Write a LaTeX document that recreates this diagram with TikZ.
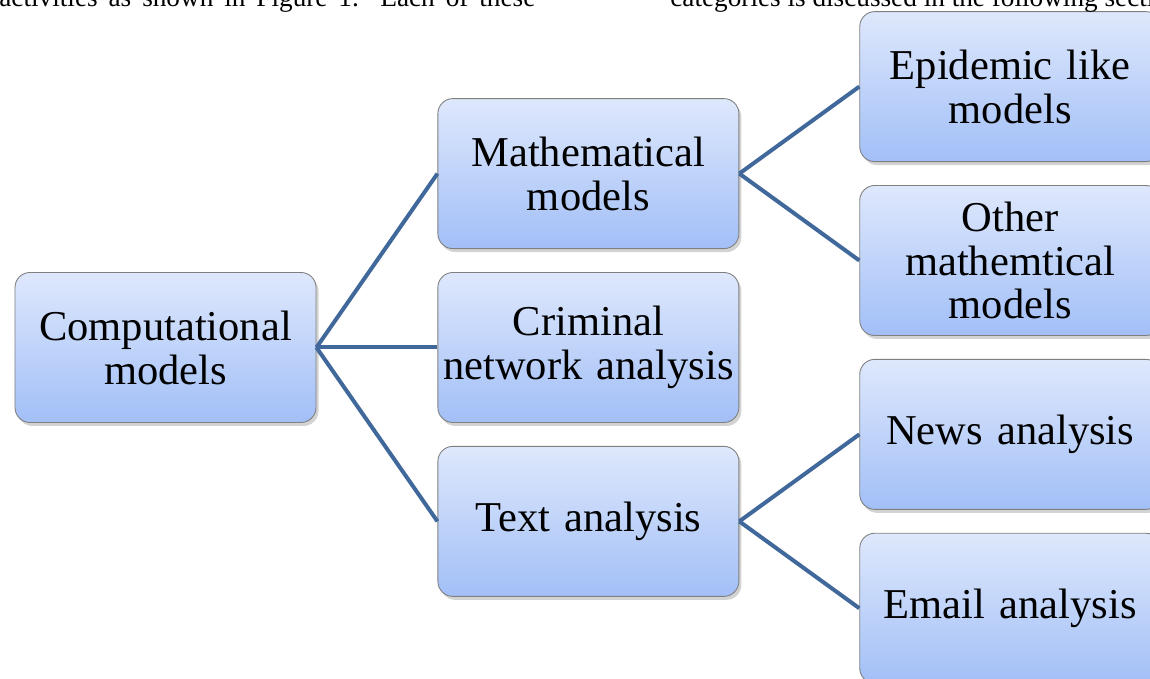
\documentclass[tikz,border=0pt]{standalone}
\usepackage{fontspec}
\setmainfont{Liberation Serif}
\usetikzlibrary{positioning,shadows}

\definecolor{boxtop}{HTML}{DEE8FC}
\definecolor{boxbottom}{HTML}{A2BFF7}
\definecolor{boxline}{HTML}{808080}
\definecolor{linkblue}{HTML}{41689A}

\begin{document}
\begin{tikzpicture}[node distance=.46cm]
	\tikzstyle{category}=[rectangle, rounded corners=.3cm, draw=boxline, line width=.5pt,
		top color=boxtop, bottom color=boxbottom, minimum width=6.02cm, minimum height=3.0cm,
		inner sep=.04cm, text width=5.9cm, align=center, font=\fontsize{24.2}{25}\selectfont,
		drop shadow={shadow xshift=.05cm, shadow yshift=-.07cm, opacity=.35}]
	\tikzstyle{link}=[draw=linkblue, line width=.08cm]
	\tikzstyle{body}=[inner sep=0pt, font=\fontsize{15.5}{17}\selectfont]

	\useasboundingbox (-3.31,-6.63) rectangle (19.69,6.95);

	\node (comp) [category] {Computational\\models};
	\node (crim) [category, right=2.42cm of comp] {Criminal\\network analysis};
	\node (math) [category, above=of crim] {Mathematical\\models};
	\node (text) [category, below=of crim] {Text analysis};

	\node (epi) [category, right=2.4cm of math, yshift=1.74cm] {Epidemic like\\models};
	\node (oth) [category, below=of epi] {Other\\mathemtical\\models};
	\node (news) [category, below=of oth] {News analysis};
	\node (mail) [category, below=of news] {Email analysis};

	% running text of the page, cut by the top edge
	\node (txtl) [body, anchor=base west] at (-3.33,6.81) {\makebox[10.72cm][s]{activities as shown in Figure 1. Each of these}};
	\node (txtr) [body, anchor=base west] at (10.09,6.81) {categories is discussed in the following sections};

	\draw[link] (comp.east) -- (math.west);
	\draw[link] (comp.east) -- (crim.west);
	\draw[link] (comp.east) -- (text.west);
	\draw[link] (math.east) -- (epi.west);
	\draw[link] (math.east) -- (oth.west);
	\draw[link] (text.east) -- (news.west);
	\draw[link] (text.east) -- (mail.west);
\end{tikzpicture}
\end{document}
